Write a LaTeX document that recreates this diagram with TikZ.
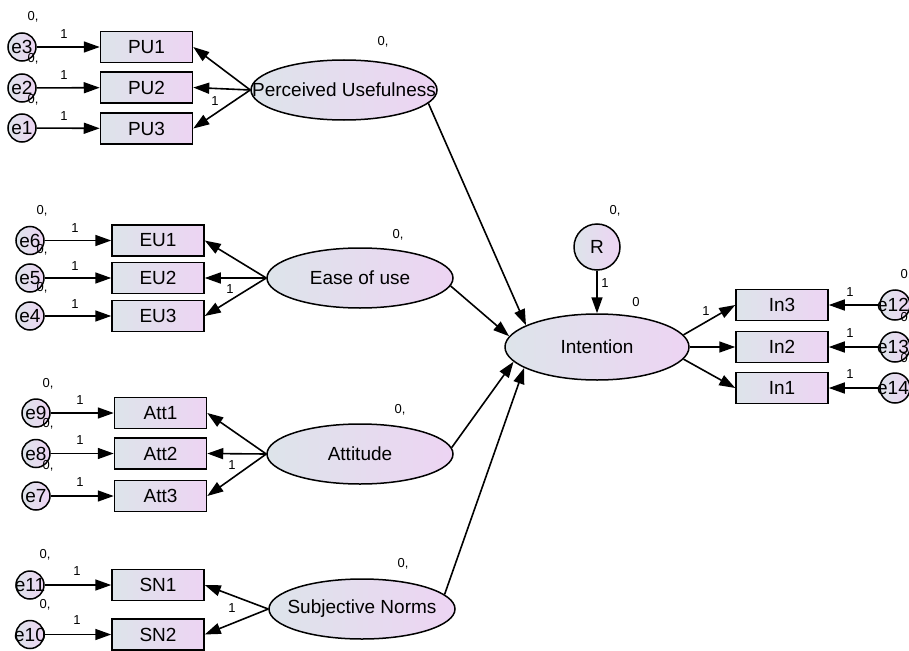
\documentclass[tikz,border=0pt]{standalone}
\usepackage{fontspec}
\setmainfont{Liberation Sans}
\usetikzlibrary{arrows.meta,shapes.geometric,calc}
\definecolor{cl}{HTML}{DDE4EA}
\definecolor{cr}{HTML}{EDD4F3}
\tikzset{
  obs/.style={rectangle, draw, line width=1.5pt, minimum width=92pt, minimum height=31pt, inner sep=0pt,
    left color=cl, right color=cr, font=\fontsize{19}{19}\selectfont},
  lat/.style={ellipse, draw, line width=1.5pt, inner sep=0pt, minimum width=186pt, minimum height=60pt,
    left color=cl, right color=cr},
  err/.style={circle, draw, line width=1.5pt, inner sep=0pt, minimum size=28pt, left color=cl, right color=cr},
  ntxt/.style={inner sep=0pt, font=\fontsize{19}{19}\selectfont},
  arr/.style={-{Triangle[length=16pt,width=11pt]}, line width=1.6pt},
  lbl/.style={inner sep=0pt, font=\fontsize{13}{13}\selectfont},
}
\begin{document}
\begin{tikzpicture}[x=1pt,y=-1pt]
\useasboundingbox (0,0) rectangle (909,650);
\clip (0,0) rectangle (909,650);
\fill[white] (0,0) rectangle (909,650);

% ---------- Perceived Usefulness ----------
\node[obs] (pu1) at (146.5,47) {PU1};
\node[obs] (pu2) at (146.5,87.5) {PU2};
\node[obs] (pu3) at (146.5,128.5) {PU3};
\node[err] (e3) at (22,47) {};
\node[err] (e2) at (22,88) {};
\node[err] (e1) at (22,128) {};
\node[ntxt] at (e3) {e3};
\node[ntxt] at (e2) {e2};
\node[ntxt] at (e1) {e1};
\node[lat] (pu) at (344,90) {};
\node[ntxt] at (pu) {Perceived Usefulness};
\draw[arr] (e3) -- (pu1);
\draw[arr] (e2) -- (pu2);
\draw[arr] (e1) -- (pu3);
\draw[arr] (pu.west) -- (pu1.east);
\draw[arr] (pu.west) -- (pu2.east);
\draw[arr] (pu.west) -- (pu3.east);
\node[lbl] at (33,17) {0,};
\node[lbl] at (33,59) {0,};
\node[lbl] at (33,100) {0,};
\node[lbl] at (64,34) {1};
\node[lbl] at (64,75) {1};
\node[lbl] at (64,116) {1};
\node[lbl] at (383,42) {0,};
\node[lbl] at (215,101) {1};

% ---------- Ease of use ----------
\node[obs] (eu1) at (158,240.5) {EU1};
\node[obs] (eu2) at (158,278) {EU2};
\node[obs] (eu3) at (158,316) {EU3};
\node[err] (e6) at (30,240.5) {};
\node[err] (e5) at (30,278) {};
\node[err] (e4) at (30,316) {};
\node[ntxt] at (e6) {e6};
\node[ntxt] at (e5) {e5};
\node[ntxt] at (e4) {e4};
\node[lat] (eou) at (360,278) {};
\node[ntxt] at (eou) {Ease of use};
\draw[arr] (e6) -- (eu1);
\draw[arr] (e5) -- (eu2);
\draw[arr] (e4) -- (eu3);
\draw[arr] (eou.west) -- (eu1.east);
\draw[arr] (eou.west) -- (eu2.east);
\draw[arr] (eou.west) -- (eu3.east);
\node[lbl] at (42,211) {0,};
\node[lbl] at (42,250) {0,};
\node[lbl] at (42,288) {0,};
\node[lbl] at (75,228) {1};
\node[lbl] at (75,266) {1};
\node[lbl] at (75,304) {1};
\node[lbl] at (398,235) {0,};
\node[lbl] at (230,289) {1};

% ---------- Attitude ----------
\node[obs] (att1) at (160.5,413) {Att1};
\node[obs] (att2) at (160.5,453.5) {Att2};
\node[obs] (att3) at (160.5,496) {Att3};
\node[err] (e9) at (36,413) {};
\node[err] (e8) at (36,453.5) {};
\node[err] (e7) at (36,496) {};
\node[ntxt] at (e9) {e9};
\node[ntxt] at (e8) {e8};
\node[ntxt] at (e7) {e7};
\node[lat] (att) at (360,454) {};
\node[ntxt] at (att) {Attitude};
\draw[arr] (e9) -- (att1);
\draw[arr] (e8) -- (att2);
\draw[arr] (e7) -- (att3);
\draw[arr] (att.west) -- (att1.east);
\draw[arr] (att.west) -- (att2.east);
\draw[arr] (att.west) -- (att3.east);
\node[lbl] at (48,384) {0,};
\node[lbl] at (48,424) {0,};
\node[lbl] at (48,466) {0,};
\node[lbl] at (80,400) {1};
\node[lbl] at (80,440) {1};
\node[lbl] at (80,482) {1};
\node[lbl] at (400,410) {0,};
\node[lbl] at (232,465) {1};

% ---------- Subjective Norms ----------
\node[obs] (sn1) at (158,585) {SN1};
\node[obs] (sn2) at (158,634.5) {SN2};
\node[err] (e11) at (30,585) {};
\node[err] (e10) at (30,634.5) {};
\node[ntxt] at (e11) {e11};
\node[ntxt] at (e10) {e10};
\node[lat] (sn) at (362,609) {};
\node[ntxt] at (sn) {Subjective Norms};
\draw[arr] (e11) -- (sn1);
\draw[arr] (e10) -- (sn2);
\draw[arr] (sn.west) -- (sn1.east);
\draw[arr] (sn.west) -- (sn2.east);
\node[lbl] at (45,555) {0,};
\node[lbl] at (45,605) {0,};
\node[lbl] at (77,571) {1};
\node[lbl] at (77,620) {1};
\node[lbl] at (403,564) {0,};
\node[lbl] at (232,608) {1};

% ---------- Intention ----------
\node[lat, minimum width=184pt, minimum height=66pt] (int) at (597,347) {};
\node[ntxt] at (int) {Intention};
\node[err, minimum size=46pt] (r) at (597,247) {};
\node[ntxt] at (r) {R};
\node[obs] (in3) at (782,305) {In3};
\node[obs] (in2) at (782,347) {In2};
\node[obs] (in1) at (782,388) {In1};
\node[err, minimum size=30pt] (e12) at (895,305) {};
\node[err, minimum size=30pt] (e13) at (895,347) {};
\node[err, minimum size=30pt] (e14) at (895,388) {};
\node[ntxt] at (893,305) {e12};
\node[ntxt] at (893,347) {e13};
\node[ntxt] at (893,388) {e14};
\draw[arr] (r) -- (int);
\draw[arr] (int.8) -- (in3.west);
\draw[arr] (int.east) -- (in2.west);
\draw[arr] (int.-8) -- (in1.west);
\draw[arr] (e12) -- (in3);
\draw[arr] (e13) -- (in2);
\draw[arr] (e14) -- (in1);
\draw[arr] (pu.-9.5) -- (int.163.7);
\draw[arr] (eou.-5.6) -- (int.173.6);
\draw[arr] (att.4.4) -- (int.190);
\draw[arr] (sn.10.9) -- (int.196.9);
\node[lbl] at (615,211) {0,};
\node[lbl] at (605,283) {1};
\node[lbl] at (636,302) {0};
\node[lbl] at (706,311) {1};
\node[lbl] at (850,292) {1};
\node[lbl] at (850,333) {1};
\node[lbl] at (850,374) {1};
\node[lbl] at (906,275) {0,};
\node[lbl] at (906,318) {0,};
\node[lbl] at (906,359) {0,};
\end{tikzpicture}
\end{document}
